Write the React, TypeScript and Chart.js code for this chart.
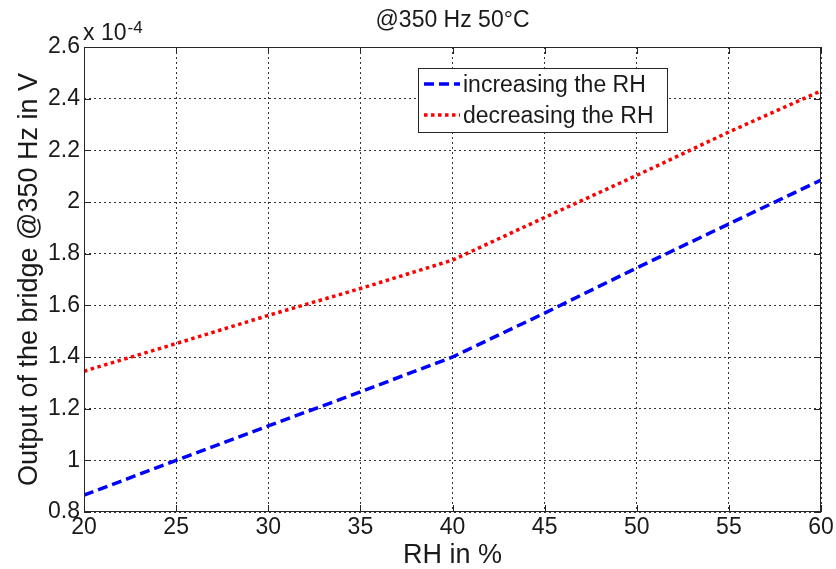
import React, { useEffect, useRef } from "react";
import { Chart, registerables } from "chart.js";

Chart.register(...registerables);

const rhValues = [20, 25, 30, 35, 40, 45, 50, 55, 60];
const increasingRH = [0.865, 1.0, 1.133, 1.265, 1.4, 1.57, 1.745, 1.915, 2.085];
const decreasingRH = [1.345, 1.452, 1.561, 1.665, 1.775, 1.94, 2.103, 2.271, 2.43];
const seriesLabels = ["increasing the RH", "decreasing the RH"];
const chartTitle = "@350 Hz 50\u00B0C";
const xTitle = "RH in %";
const yTitle = "Output of the bridge @350 Hz in V";
const exponentBase = "x 10";
const exponentPower = "-4";

const FONT = '"Liberation Sans", Arial, Helvetica, sans-serif';
const TEXT = "#1a1a1a";

const decorPlugin = {
  id: "matlabDecor",
  afterDraw(chart: any) {
    const { ctx, chartArea } = chart;
    const { left, right, top, bottom } = chartArea;
    ctx.save();
    // axes box
    ctx.strokeStyle = "#262626";
    ctx.lineWidth = 1;
    ctx.setLineDash([]);
    ctx.strokeRect(left + 0.5, top + 0.5, right - left - 1, bottom - top - 1);
    // inner ticks
    const tl = 7;
    const xs = chart.scales.x;
    const ys = chart.scales.y;
    ctx.beginPath();
    xs.ticks.forEach((t: any) => {
      const px = Math.round(xs.getPixelForValue(t.value)) + 0.5;
      ctx.moveTo(px, bottom);
      ctx.lineTo(px, bottom - tl);
      ctx.moveTo(px, top);
      ctx.lineTo(px, top + tl);
    });
    ys.ticks.forEach((t: any) => {
      const py = Math.round(ys.getPixelForValue(t.value)) + 0.5;
      ctx.moveTo(left, py);
      ctx.lineTo(left + tl, py);
      ctx.moveTo(right, py);
      ctx.lineTo(right - tl, py);
    });
    ctx.stroke();

    // exponent label
    ctx.fillStyle = TEXT;
    ctx.textBaseline = "alphabetic";
    ctx.textAlign = "left";
    ctx.font = `23px ${FONT}`;
    ctx.fillText(exponentBase, left - 1, 40);
    const w = ctx.measureText(exponentBase).width;
    ctx.font = `17px ${FONT}`;
    ctx.fillText(exponentPower, left - 1 + w + 1, 33);

    // legend
    const lx = 418, ly = 68, lw = 249, lh = 64;
    ctx.fillStyle = "#ffffff";
    ctx.fillRect(lx, ly, lw, lh);
    ctx.strokeStyle = "#262626";
    ctx.lineWidth = 1;
    ctx.strokeRect(lx + 0.5, ly + 0.5, lw, lh);
    const rows = [84, 115];
    chart.data.datasets.forEach((ds: any, i: number) => {
      const y = rows[i];
      ctx.save();
      ctx.strokeStyle = ds.borderColor;
      ctx.lineWidth = ds.borderWidth;
      ctx.setLineDash(ds.borderDash || []);
      ctx.lineCap = "butt";
      ctx.beginPath();
      ctx.moveTo(424, y);
      ctx.lineTo(460, y);
      ctx.stroke();
      ctx.restore();
      ctx.fillStyle = TEXT;
      ctx.font = `23px ${FONT}`;
      ctx.textBaseline = "middle";
      ctx.textAlign = "left";
      ctx.fillText(ds.label, 463, y + 2);
    });
    ctx.restore();
  },
};

export default function App() {
  const ref = useRef<HTMLCanvasElement | null>(null);

  useEffect(() => {
    if (!ref.current) return;
    const chart = new Chart(ref.current, {
      type: "line",
      data: {
        datasets: [
          {
            label: seriesLabels[0],
            data: rhValues.map((x, i) => ({ x, y: increasingRH[i] })),
            borderColor: "#0000ff",
            borderWidth: 3.5,
            borderDash: [10, 5],
            pointRadius: 0,
            tension: 0,
            fill: false,
          },
          {
            label: seriesLabels[1],
            data: rhValues.map((x, i) => ({ x, y: decreasingRH[i] })),
            borderColor: "#ff0000",
            borderWidth: 3.5,
            borderDash: [3.5, 3.5],
            pointRadius: 0,
            tension: 0,
            fill: false,
          },
        ],
      },
      options: {
        animation: false,
        responsive: false,
        devicePixelRatio: 1,
        layout: { padding: { left: 0, right: 15, top: 0, bottom: 0 } },
        plugins: {
          legend: { display: false },
          tooltip: { enabled: false },
          title: {
            display: true,
            text: chartTitle,
            fullSize: false,
            color: TEXT,
            font: { family: FONT, size: 23, weight: "normal", lineHeight: 1 },
            padding: { top: 9, bottom: 15 },
          },
        },
        scales: {
          x: {
            type: "linear",
            min: 20,
            max: 60,
            ticks: {
              stepSize: 5,
              color: TEXT,
              padding: 2,
              font: { family: FONT, size: 23 },
            },
            grid: { color: "#333333", lineWidth: 1, drawTicks: false },
            border: { display: false, dash: [2, 3] },
            title: {
              display: true,
              text: xTitle,
              color: TEXT,
              font: { family: FONT, size: 27, lineHeight: 1 },
              padding: { top: 0, bottom: 0 },
            },
            afterFit: (scale: any) => {
              scale.height = 57;
            },
          },
          y: {
            type: "linear",
            min: 0.8,
            max: 2.6,
            ticks: {
              stepSize: 0.2,
              color: TEXT,
              padding: 4,
              font: { family: FONT, size: 23 },
              callback: (v: any) => String(Math.round(Number(v) * 10) / 10),
            },
            grid: { color: "#333333", lineWidth: 1, drawTicks: false },
            border: { display: false, dash: [2, 3] },
            title: {
              display: true,
              text: yTitle,
              color: TEXT,
              font: { family: FONT, size: 27, lineHeight: 1 },
              padding: { top: 16, bottom: 0 },
            },
            afterFit: (scale: any) => {
              scale.width = 84;
            },
          },
        },
      },
      plugins: [decorPlugin],
    } as any);
    return () => chart.destroy();
  }, []);

  return (
    <div style={{ position: "fixed", left: 0, top: 0, width: 836, height: 569, background: "#fff" }}>
      <canvas ref={ref} width={836} height={569} style={{ width: 836, height: 569, display: "block" }} />
    </div>
  );
}
